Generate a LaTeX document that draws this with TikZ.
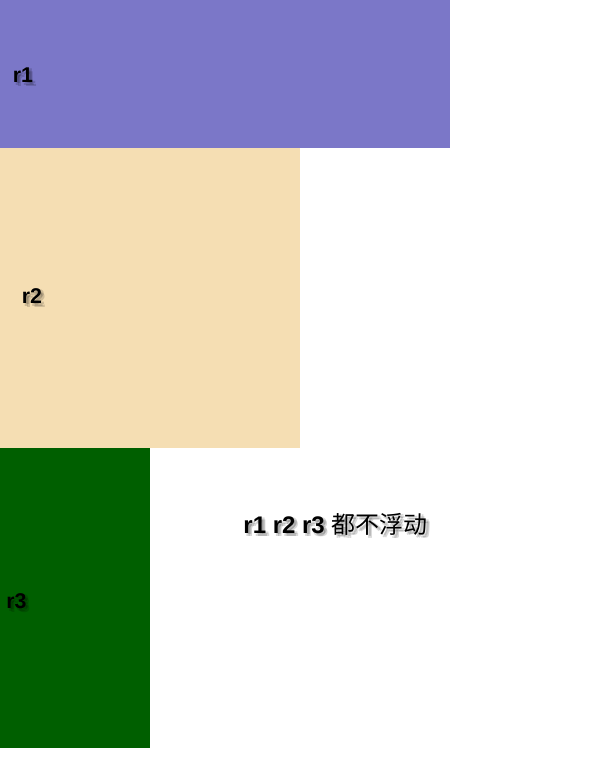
\documentclass[tikz,border=0pt]{standalone}
\usepackage{fontspec}
\setmainfont{Liberation Sans}
\newfontfamily\cjk{Noto Sans CJK SC}
\usepackage{tikz}
\usetikzlibrary{calc,positioning}

\definecolor{rOnecol}{RGB}{123,119,200}
\definecolor{rTwocol}{RGB}{245,222,179}
\definecolor{rThreecol}{RGB}{0,95,0}

\tikzset{
  boxlbl/.style={font=\bfseries\fontsize{16}{18}\selectfont,inner sep=0pt},
  notelbl/.style={font=\bfseries\fontsize{18}{20}\selectfont,inner sep=0pt},
  glow/.style={text=black,opacity=0.15},
}
\newcommand{\shadowlabel}[4]{% style, name, position, text
  \foreach \dx/\dy in {2/4,4/2,5/5}
    \node[#1,glow] at ($(#3)+(\dx*0.75,\dy*0.75)$) {#4};
  \node[#1] (#2) at (#3) {#4};}

\begin{document}
\begin{tikzpicture}[x=0.75pt,y=-0.75pt]
        \useasboundingbox (0,0) rectangle (614,761);
        \fill[rOnecol] (0,0) rectangle (450,148);
        \fill[rTwocol] (0,148) rectangle (300,448);
        \fill[rThreecol] (0,448) rectangle (150,748);
        \shadowlabel{boxlbl}{rone}{23,75}{r1}
        \shadowlabel{boxlbl}{rtwo}{32,296}{r2}
        \shadowlabel{boxlbl}{rthree}{16.5,601}{r3}
        \shadowlabel{notelbl}{note}{335.5,524}{r1 r2 r3 {\cjk\mdseries 都不浮动}}
    \end{tikzpicture}
\end{document}
